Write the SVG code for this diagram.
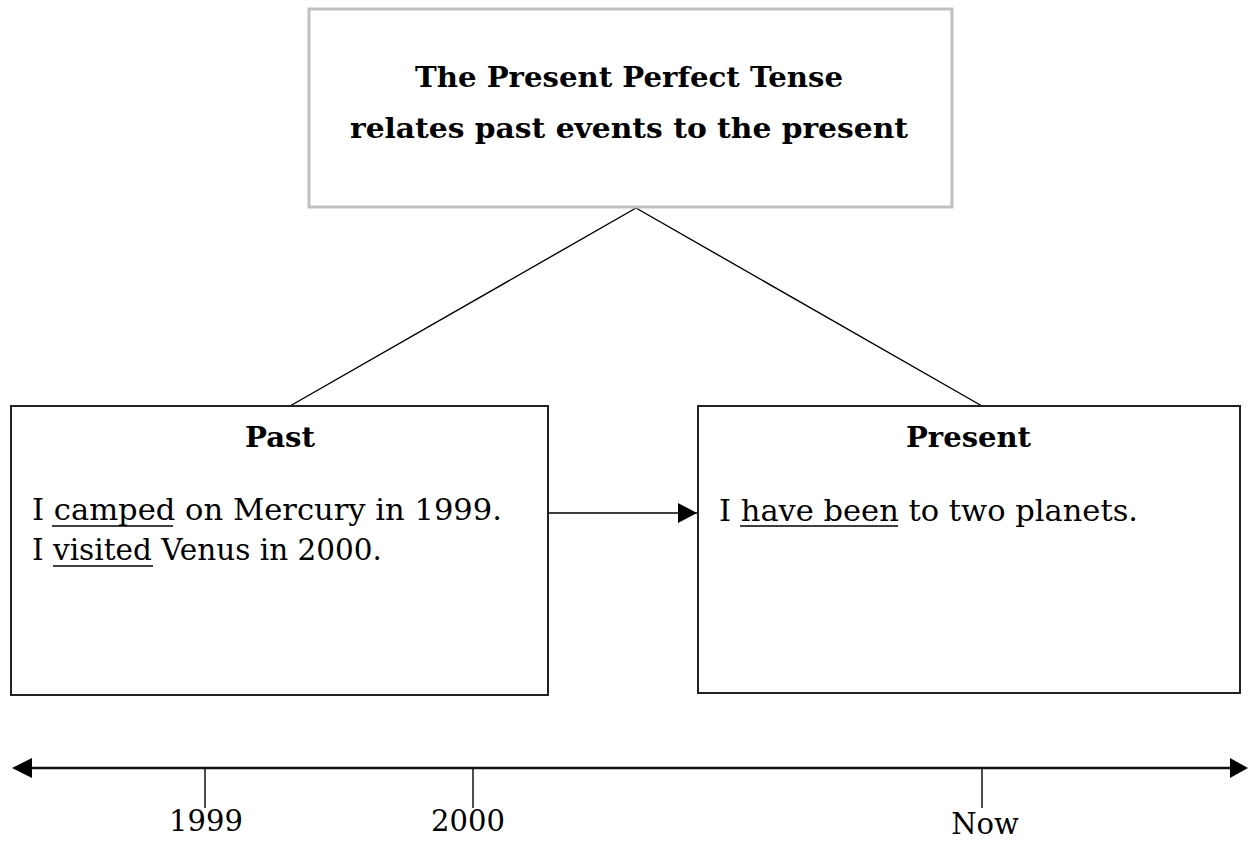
<svg xmlns="http://www.w3.org/2000/svg" width="1251" height="841" viewBox="0 0 1251 841">
<defs>
<style>
.t{font-family:"DejaVu Serif","Liberation Serif",serif;fill:#000}
.b{font-weight:bold}
.box{fill:#fff;stroke:#222;stroke-width:2}
.ln{stroke:#000;stroke-width:1.4;fill:none}
.ul{stroke:#000;stroke-width:1.6}
</style>
<marker id="ah" viewBox="0 0 19 20" refX="19" refY="10" markerWidth="19" markerHeight="20" markerUnits="userSpaceOnUse" orient="auto">
<path d="M0,0 L19,10 L0,20 Z" fill="#000"/>
</marker>
</defs>
<rect width="1251" height="841" fill="#fff"/>
<g id="connectors">
<line class="ln" x1="636" y1="208" x2="290" y2="406"/>
<line class="ln" x1="636" y1="208" x2="982" y2="406"/>
<line class="ln" x1="548" y1="513" x2="697" y2="513" marker-end="url(#ah)"/>
</g>
<g id="title">
<rect x="309" y="9" width="643" height="198" fill="#fff" stroke="#c0c0c0" stroke-width="3"/>
<text class="t b" x="415" y="87" font-size="28" textLength="428" lengthAdjust="spacingAndGlyphs">The Present Perfect Tense</text>
<text class="t b" x="350" y="138" font-size="28" textLength="558" lengthAdjust="spacingAndGlyphs">relates past events to the present</text>
</g>
<g id="past">
<rect class="box" x="11" y="406" width="537" height="289"/>
<text class="t b" x="245" y="447" font-size="27" textLength="70" lengthAdjust="spacingAndGlyphs">Past</text>
<text class="t" x="32" y="520" font-size="29" textLength="470" lengthAdjust="spacingAndGlyphs">I camped on Mercury in 1999.</text>
<text class="t" x="32" y="560" font-size="29" textLength="350" lengthAdjust="spacingAndGlyphs">I visited Venus in 2000.</text>
<line class="ul" x1="52" y1="526" x2="173" y2="526"/>
<line class="ul" x1="53" y1="566" x2="153" y2="566"/>
</g>
<g id="present">
<rect class="box" x="698" y="406" width="542" height="287"/>
<text class="t b" x="906" y="447" font-size="27" textLength="125" lengthAdjust="spacingAndGlyphs">Present</text>
<text class="t" x="719" y="521" font-size="29" textLength="419" lengthAdjust="spacingAndGlyphs">I have been to two planets.</text>
<line class="ul" x1="740" y1="526" x2="898" y2="526"/>
</g>
<g id="timeline">
<line x1="30" y1="768" x2="1232" y2="768" stroke="#111" stroke-width="2.5"/>
<polygon points="12,768 32,758 32,778" fill="#000"/>
<polygon points="1248,768 1230,758 1230,778" fill="#000"/>
<line class="ln" x1="205" y1="768" x2="205" y2="808"/>
<line class="ln" x1="473" y1="768" x2="473" y2="808"/>
<line class="ln" x1="982" y1="768" x2="982" y2="808"/>
<text class="t" x="206" y="831" font-size="29" text-anchor="middle">1999</text>
<text class="t" x="468" y="831" font-size="29" text-anchor="middle">2000</text>
<text class="t" x="985" y="834" font-size="29" text-anchor="middle">Now</text>
</g>
</svg>
